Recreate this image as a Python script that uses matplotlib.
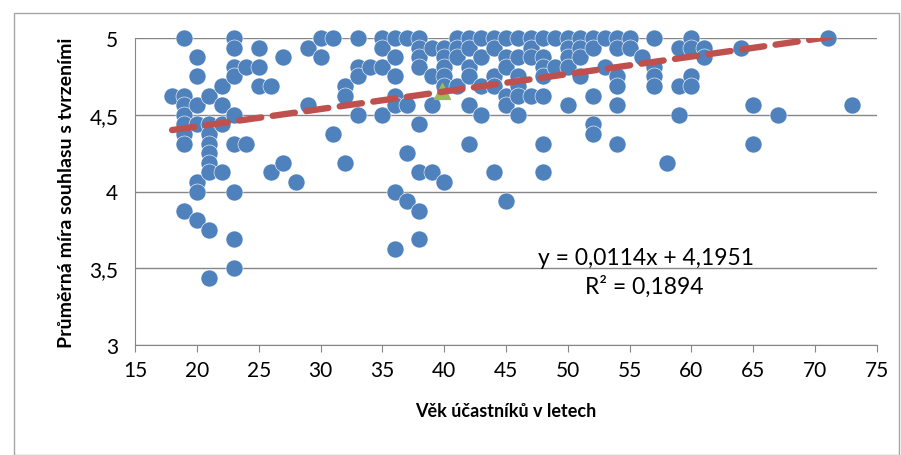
import matplotlib
matplotlib.use('Agg')
import matplotlib.pyplot as plt
import matplotlib.patches as patches
import numpy as np

# age -> average agreement scores
ages = [18,
        19, 19, 19, 19, 19, 19, 19, 19,
        20, 20, 20, 20, 20, 20, 20,
        21, 21, 21, 21, 21, 21, 21, 21, 21,
        22, 22, 22, 22,
        23, 23, 23, 23, 23, 23, 23, 23, 23,
        24, 24,
        25, 25, 25,
        26, 26,
        27, 27,
        28,
        29, 29,
        30, 30,
        31, 31,
        32, 32, 32,
        33, 33, 33, 33,
        34,
        35, 35, 35, 35,
        36, 36, 36, 36, 36, 36, 36,
        37, 37, 37, 37,
        38, 38, 38, 38, 38, 38, 38, 38,
        39, 39, 39, 39,
        40, 40, 40, 40, 40, 40,
        41, 41, 41, 41,
        42, 42, 42, 42, 42, 42,
        43, 43, 43, 43,
        44, 44, 44, 44, 44,
        45, 45, 45, 45, 45, 45,
        46, 46, 46, 46, 46, 46,
        47, 47, 47, 47,
        48, 48, 48, 48, 48, 48, 48,
        49, 49,
        50, 50, 50, 50, 50,
        51, 51, 51, 51,
        52, 52, 52, 52, 52,
        53, 53,
        54, 54, 54, 54, 54, 54,
        55, 55,
        56,
        57, 57, 57, 57,
        58,
        59, 59, 59,
        60, 60, 60, 60,
        61, 61,
        64,
        65, 65,
        67,
        71,
        73]
scores = [4.625,
          5, 4.625, 4.5625, 4.5, 4.4375, 4.375, 4.3125, 3.875,
          4.875, 4.75, 4.5625, 4.4375, 4.0625, 4.0, 3.8125,
          4.625, 4.4375, 4.375, 4.3125, 4.25, 4.1875, 4.125, 3.75, 3.4375,
          4.6875, 4.5625, 4.4375, 4.125,
          5, 4.9375, 4.8125, 4.75, 4.5, 4.3125, 4.0, 3.6875, 3.5,
          4.8125, 4.3125,
          4.9375, 4.8125, 4.6875,
          4.6875, 4.125,
          4.875, 4.1875,
          4.0625,
          4.9375, 4.5625,
          5, 4.875,
          5, 4.375,
          4.6875, 4.625, 4.1875,
          5, 4.8125, 4.75, 4.5,
          4.8125,
          5, 4.9375, 4.8125, 4.5,
          5, 4.875, 4.75, 4.625, 4.5625, 4.0, 3.625,
          5, 4.5625, 4.25, 3.9375,
          5, 4.9375, 4.875, 4.8125, 4.4375, 4.125, 3.875, 3.6875,
          4.9375, 4.75, 4.5625, 4.125,
          4.9375, 4.875, 4.8125, 4.75, 4.6875, 4.0625,
          5, 4.9375, 4.875, 4.6875,
          5, 4.9375, 4.8125, 4.75, 4.5625, 4.3125,
          5, 4.875, 4.6875, 4.5,
          5, 4.9375, 4.75, 4.6875, 4.125,
          5, 4.875, 4.8125, 4.625, 4.5625, 3.9375,
          5, 4.875, 4.75, 4.6875, 4.625, 4.5,
          5, 4.9375, 4.875, 4.625,
          5, 4.875, 4.8125, 4.75, 4.625, 4.3125, 4.125,
          5, 4.8125,
          5, 4.9375, 4.875, 4.8125, 4.5625,
          5, 4.9375, 4.875, 4.75,
          5, 4.9375, 4.625, 4.4375, 4.375,
          5, 4.8125,
          5, 4.9375, 4.75, 4.6875, 4.5625, 4.3125,
          5, 4.9375,
          4.875,
          5, 4.8125, 4.75, 4.6875,
          4.1875,
          4.9375, 4.6875, 4.5,
          5, 4.9375, 4.75, 4.6875,
          4.9375, 4.875,
          4.9375,
          4.5625, 4.3125,
          4.5,
          5,
          4.5625]

mean_age = [39.8]
mean_score = [4.655]

# linear trend as printed on the chart
slope = 0.0114
intercept = 4.1951
trend_x = [18, 73]

plt.rcParams['font.family'] = ['Lato', 'DejaVu Sans']

fig = plt.figure(figsize=(9.01, 4.56), dpi=100)
ax = fig.add_axes([135 / 901, 1 - 346 / 456, 742 / 901, 307 / 456])

# chart area border
fig.patches.append(patches.Rectangle((14 / 901, 0), 885 / 901, 1 - 14 / 456,
                                     transform=fig.transFigure, fill=False,
                                     ec='#a6a6a6', lw=1))

ax.scatter(ages, scores, s=150, color='#4F81BD', edgecolors='white',
           linewidths=0.4, zorder=3, clip_on=False)
ax.scatter(mean_age, mean_score, s=130, marker='^', color='#9BBB59',
           zorder=4, clip_on=False)

tx = np.array(trend_x, dtype=float)
ax.plot(tx, slope * tx + intercept, color='#C0504D', lw=4.6,
        dashes=(3.5, 1.8), dash_capstyle='round', zorder=5)

ax.set_xlim(15, 75)
ax.set_ylim(3, 5)
ax.set_xticks(range(15, 80, 5))
ax.set_yticks([3, 3.5, 4, 4.5, 5])
ax.set_yticklabels(['3', '3,5', '4', '4,5', '5'])
ax.tick_params(axis='x', labelsize=15, direction='out', length=5,
               color='#868686', pad=6)
ax.tick_params(axis='y', labelsize=15, length=0, pad=12)
ax.yaxis.grid(True, color='#868686', lw=1)
ax.set_axisbelow(True)
for side in ['top', 'right']:
    ax.spines[side].set_visible(False)
ax.spines['left'].set_color('#868686')
ax.spines['bottom'].set_color('#868686')

ax.set_xlabel('Věk účastníků v letech', fontsize=13, fontweight='bold',
              labelpad=16)
ax.set_ylabel('Průměrná míra souhlasu s tvrzeními', fontsize=14,
              fontweight='bold', labelpad=10)

ax.text(56.3, 3.573, 'y = 0,0114x + 4,1951', fontsize=16.5, ha='center',
        va='center')
ax.text(56.2, 3.384, 'R² = 0,1894', fontsize=16.5, ha='center', va='center')

fig.savefig('out.png', dpi=100, facecolor='white')
